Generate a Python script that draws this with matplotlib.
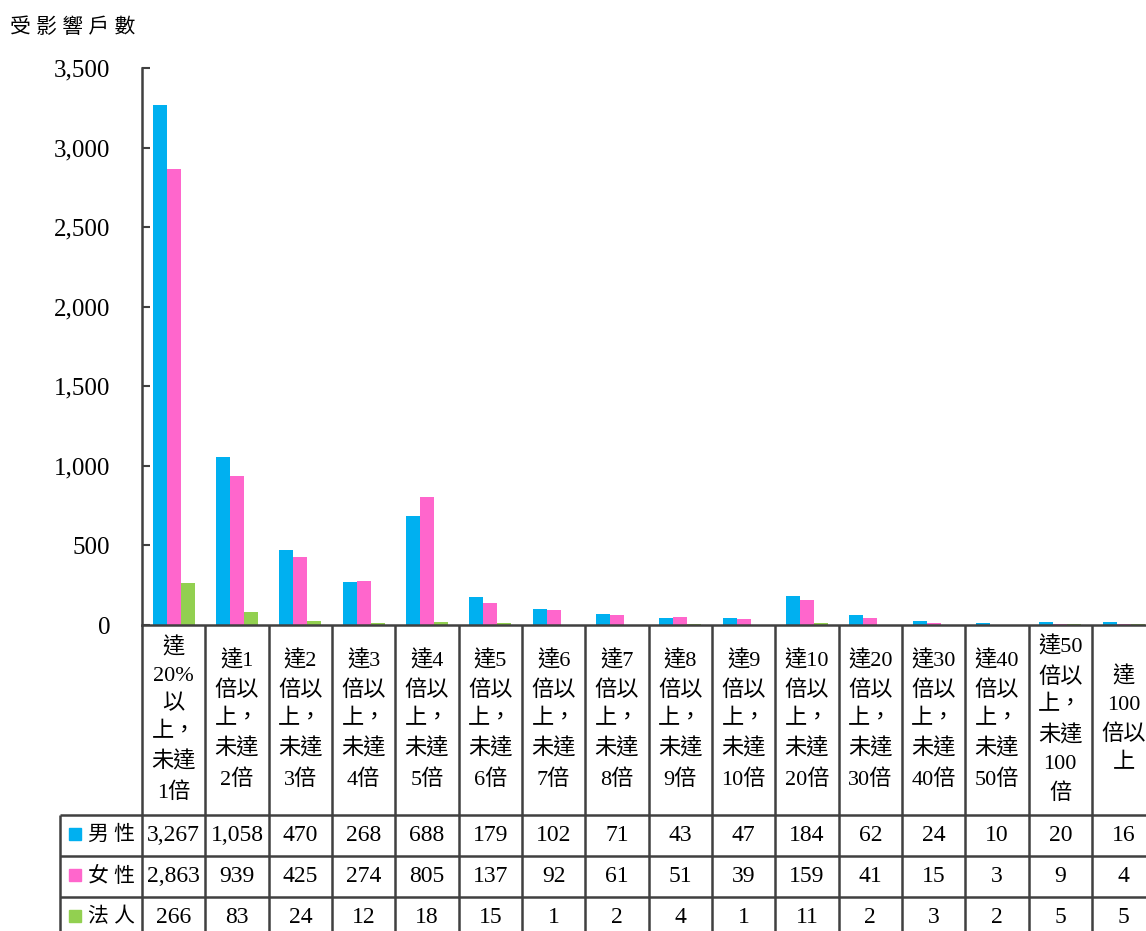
import numpy as np
from matplotlib import pyplot as plt
from matplotlib import transforms
from matplotlib.ticker import FuncFormatter

# Latin digits in a serif face, CJK glyphs fall back to Noto
plt.rcParams['font.family'] = ['Liberation Serif', 'Noto Sans CJK TC']

categories = ["達\n20%\n以\n上，\n未達\n1倍",
              "達1\n倍以\n上，\n未達\n2倍",
              "達2\n倍以\n上，\n未達\n3倍",
              "達3\n倍以\n上，\n未達\n4倍",
              "達4\n倍以\n上，\n未達\n5倍",
              "達5\n倍以\n上，\n未達\n6倍",
              "達6\n倍以\n上，\n未達\n7倍",
              "達7\n倍以\n上，\n未達\n8倍",
              "達8\n倍以\n上，\n未達\n9倍",
              "達9\n倍以\n上，\n未達\n10倍",
              "達10\n倍以\n上，\n未達\n20倍",
              "達20\n倍以\n上，\n未達\n30倍",
              "達30\n倍以\n上，\n未達\n40倍",
              "達40\n倍以\n上，\n未達\n50倍",
              "達50\n倍以\n上，\n未達\n100\n倍",
              "達\n100\n倍以\n上"]
seriesNames = ["男 性", "女 性", "法 人"]
male = [3267, 1058, 470, 268, 688, 179, 102, 71, 43, 47, 184, 62, 24, 10, 20, 16]
female = [2863, 939, 425, 274, 805, 137, 92, 61, 51, 39, 159, 41, 15, 3, 9, 4]
corporate = [266, 83, 24, 12, 18, 15, 1, 2, 4, 1, 11, 2, 3, 2, 5, 5]
colors = ['#00B0F0', '#FF66CC', '#92D050']
yTicks = [0, 500, 1000, 1500, 2000, 2500, 3000, 3500]
yLabel = "受 影 響 戶 數"

# Layout in pixels
W, H = 1146, 931
AX_LEFT, AX_BOTTOM, AX_TOP = 142, 625, 68
COL_W = 63.33
CAT_BOTTOM = 815
ROW_H = 41
LABEL_COL_LEFT = 60
LINE_COLOR = '#404040'


def yAx(ypix):
    # pixel row -> axes fraction of the plot area
    return (AX_BOTTOM - ypix) / (AX_BOTTOM - AX_TOP)


def xData(xpix):
    # pixel column -> data x (column index)
    return (xpix - AX_LEFT) / COL_W - 0.5


fig = plt.figure(figsize=(W / 100, H / 100), dpi=100)
ax = fig.add_axes([AX_LEFT / W, (H - AX_BOTTOM) / H, 16 * COL_W / W, (AX_BOTTOM - AX_TOP) / H])

x = np.arange(len(categories))
barW = 0.22
series = [male, female, corporate]
for i in range(3):
    ax.bar(x + (i - 1) * barW, series[i], barW, color=colors[i], zorder=2)

ax.set_xlim(-0.5, len(categories) - 0.5)
ax.set_ylim(0, 3500)
ax.set_yticks(yTicks)
ax.yaxis.set_major_formatter(FuncFormatter(lambda v, p: f"{int(v):,}"))
ax.set_xticks([])
ax.tick_params(axis='y', direction='in', length=6, width=1.5, color=LINE_COLOR, pad=23, labelsize=18)
for s in ['top', 'right']:
    ax.spines[s].set_visible(False)
for s in ['left', 'bottom']:
    ax.spines[s].set_color(LINE_COLOR)
    ax.spines[s].set_linewidth(1.8)

blend = transforms.blended_transform_factory(ax.transData, ax.transAxes)
lineKw = dict(color=LINE_COLOR, lw=1.8, transform=blend, clip_on=False, solid_capstyle='butt')

# Table grid under the axis
bottomPix = H + 10
for b in range(len(categories) + 1):
    ax.plot([b - 0.5, b - 0.5], [yAx(AX_BOTTOM), yAx(bottomPix)], **lineKw)
ax.plot([xData(LABEL_COL_LEFT)] * 2, [yAx(CAT_BOTTOM), yAx(bottomPix)], **lineKw)
for r in range(4):
    yy = yAx(CAT_BOTTOM + r * ROW_H)
    ax.plot([xData(LABEL_COL_LEFT), len(categories) - 0.5], [yy, yy], **lineKw)

# Category labels
catMid = yAx((AX_BOTTOM + CAT_BOTTOM) / 2)
for i, lab in enumerate(categories):
    ax.text(i, catMid, lab, transform=blend, ha='center', va='center', multialignment='center',
            fontsize=16, linespacing=1.6, clip_on=False)

# Data rows with legend keys
for r in range(3):
    rowMid = yAx(CAT_BOTTOM + r * ROW_H + ROW_H / 2)
    ax.plot([xData(75)], [yAx(CAT_BOTTOM + r * ROW_H + ROW_H / 2 - 2)], marker='s', markersize=8,
            color=colors[r], transform=blend, clip_on=False, linestyle='none')
    ax.text(xData(88), rowMid, seriesNames[r], transform=blend, ha='left', va='center',
            fontsize=15, clip_on=False)
    for i, v in enumerate(series[r]):
        ax.text(i, rowMid, f"{v:,}", transform=blend, ha='center', va='center',
                fontsize=17, clip_on=False)

fig.text(10 / W, 1 - 28 / H, yLabel, ha='left', va='center', fontsize=15)

fig.savefig("out.png", dpi=100)
